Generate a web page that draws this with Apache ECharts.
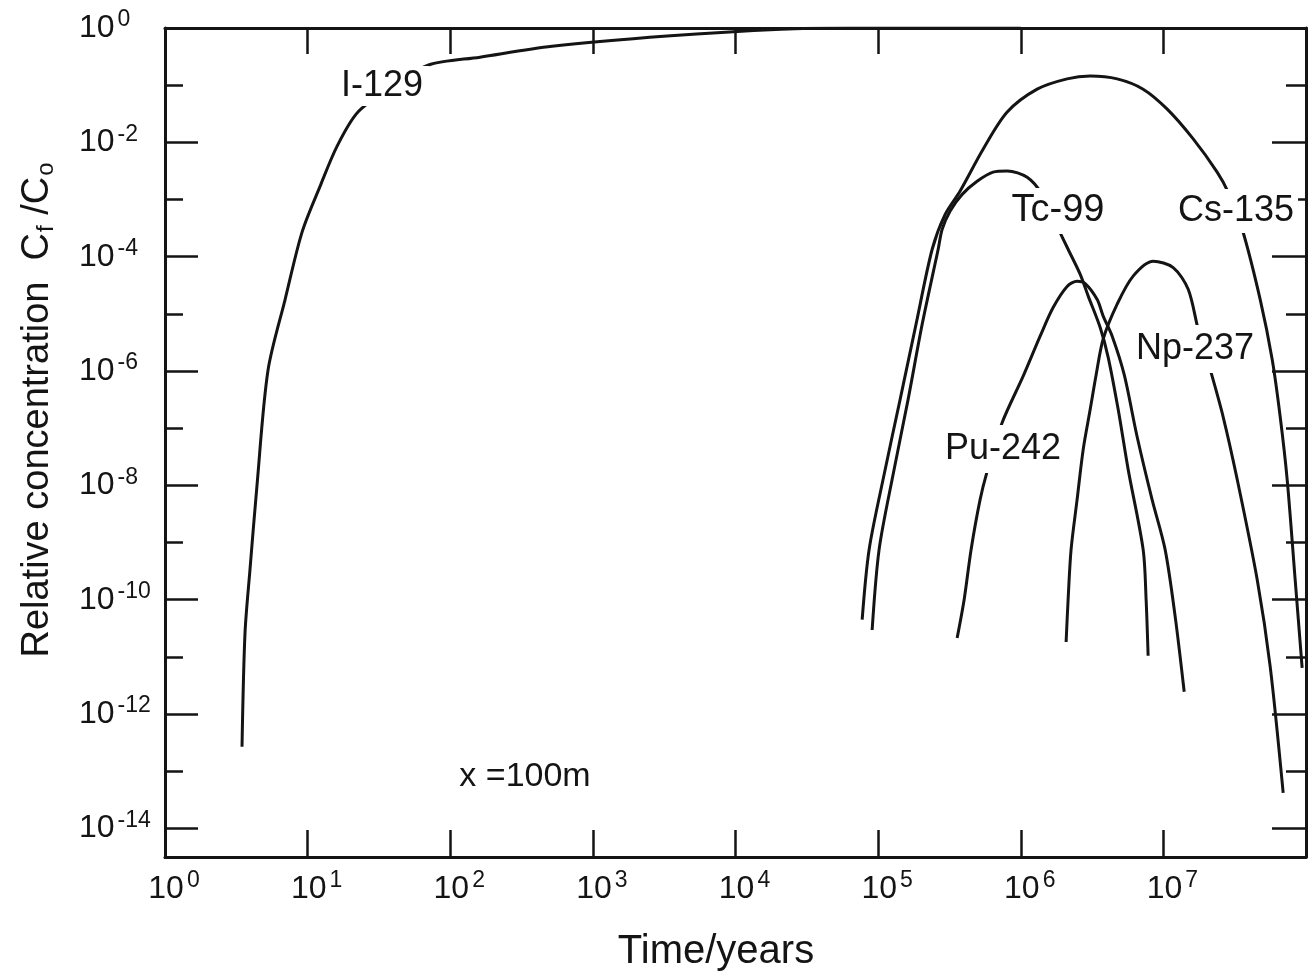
<!DOCTYPE html>
<html><head><meta charset="utf-8">
<script src="https://cdn.jsdelivr.net/npm/echarts@6/dist/echarts.min.js"></script>
<style>html,body{margin:0;padding:0;background:#fff}#c{width:1314px;height:978px}</style>
</head><body><div id="c"></div>
<script>
// Axis ticks / labels (exponents of ten)
const xLabelExps = [0, 1, 2, 3, 4, 5, 6, 7];
const xTickExps = [1, 2, 3, 4, 5, 6, 7];
const yLabelExps = [0, -2, -4, -6, -8, -10, -12, -14];
const yMinorExps = [-1, -3, -5, -7, -9, -11, -13];

// Series: log10(time / years) and log10(Cf/Co)
const i129LogT = [0.540, 0.561, 0.596, 0.645, 0.722, 0.842, 0.961, 1.087, 1.206, 1.353, 1.600, 1.844, 2.209, 2.714, 3.52, 4.32, 4.80, 6.00];
const i129LogC = [-12.57, -10.58, -9.47, -8.00, -5.99, -4.75, -3.57, -2.77, -2.07, -1.47, -1.02, -0.65, -0.51, -0.32, -0.14, -0.02, 0.00, 0.00];

const cs135LogT = [4.888, 4.937, 5.042, 5.154, 5.266, 5.379, 5.470, 5.575, 5.736, 5.905, 6.115, 6.325, 6.487, 6.676, 6.858, 7.027, 7.209, 7.377, 7.454, 7.553, 7.679, 7.763, 7.819, 7.868, 7.924, 7.973];
const cs135LogC = [-10.35, -9.12, -7.81, -6.50, -5.18, -3.87, -3.26, -2.85, -2.12, -1.47, -1.07, -0.89, -0.84, -0.89, -1.07, -1.42, -1.94, -2.52, -2.87, -3.52, -4.75, -5.80, -6.80, -7.90, -9.65, -11.19];

const tc99LogT = [4.958, 5.007, 5.105, 5.210, 5.309, 5.421, 5.449, 5.505, 5.589, 5.694, 5.806, 5.905, 6.045, 6.150, 6.255, 6.332, 6.417, 6.473, 6.557, 6.613, 6.683, 6.753, 6.858, 6.879, 6.893];
const tc99LogC = [-10.53, -9.12, -7.81, -6.50, -5.18, -3.87, -3.52, -3.20, -2.91, -2.68, -2.52, -2.50, -2.61, -2.91, -3.47, -3.87, -4.31, -4.69, -5.24, -5.76, -6.67, -7.72, -9.12, -10.00, -10.98];

const pu242LogT = [5.554, 5.603, 5.652, 5.715, 5.764, 5.870, 6.017, 6.136, 6.227, 6.325, 6.396, 6.452, 6.536, 6.578, 6.641, 6.725, 6.816, 6.921, 7.012, 7.083, 7.146];
const pu242LogC = [-10.67, -10.00, -9.12, -8.25, -7.76, -6.90, -6.09, -5.39, -4.89, -4.52, -4.43, -4.47, -4.75, -5.04, -5.39, -6.06, -7.15, -8.25, -9.12, -10.30, -11.61];

const np237LogT = [6.318, 6.332, 6.353, 6.395, 6.438, 6.487, 6.529, 6.578, 6.676, 6.788, 6.929, 7.069, 7.174, 7.244, 7.328, 7.419, 7.518, 7.658, 7.749, 7.840];
const np237LogC = [-10.74, -10.00, -9.12, -8.25, -7.37, -6.67, -6.06, -5.44, -4.83, -4.34, -4.08, -4.19, -4.57, -5.27, -5.97, -6.80, -7.90, -9.65, -11.17, -13.38];

const seriesNames = ['I-129', 'Cs-135', 'Tc-99', 'Pu-242', 'Np-237'];
const seriesT = [i129LogT, cs135LogT, tc99LogT, pu242LogT, np237LogT];
const seriesC = [i129LogC, cs135LogC, tc99LogC, pu242LogC, np237LogC];

const INK = '#141414';
const FONT = '"Liberation Sans", "DejaVu Sans", sans-serif';

const chart = echarts.init(document.getElementById('c'), null, {renderer: 'canvas'});

const powRich = {
  b: {fontSize: 32, fontFamily: FONT, color: INK, lineHeight: 40},
  s: {fontSize: 23, fontFamily: FONT, color: INK, padding: [0, 0, 16, 3], lineHeight: 40}
};
const powFmt = v => '{b|10}{s|' + String(Math.round(v)) + '}';

const lineStyleAxis = {color: INK, width: 3};
const tickStyle = {color: INK, width: 2.5};

const option = {
  backgroundColor: '#fff',
  animation: false,
  grid: {left: 165, right: 8, top: 28, bottom: 121, containLabel: false},
  xAxis: [
    {
      type: 'value', min: 0, max: 8, position: 'bottom',
      axisLine: {show: true, onZero: false, lineStyle: lineStyleAxis},
      axisTick: {show: true, inside: true, length: 27, lineStyle: tickStyle, customValues: xTickExps},
      axisLabel: {show: true, customValues: xLabelExps, formatter: powFmt, rich: powRich, margin: 12, padding: [0, 0, 0, 18]},
      splitLine: {show: false}
    },
    {
      type: 'value', min: 0, max: 8, position: 'top',
      axisLine: {show: true, onZero: false, lineStyle: lineStyleAxis},
      axisTick: {show: true, inside: true, length: 26, lineStyle: tickStyle, customValues: xTickExps},
      axisLabel: {show: false},
      splitLine: {show: false}
    }
  ],
  yAxis: [
    {
      type: 'value', min: -14.5, max: 0, position: 'left', offset: 0,
      axisLine: {show: true, onZero: false, lineStyle: lineStyleAxis},
      axisTick: {show: true, inside: true, length: 33, lineStyle: tickStyle, customValues: yLabelExps},
      axisLabel: {show: true, customValues: yLabelExps, formatter: powFmt, rich: powRich, margin: 86, align: 'left'},
      splitLine: {show: false}
    },
    {
      type: 'value', min: -14.5, max: 0, position: 'left', offset: 0,
      axisLine: {show: false, onZero: false},
      axisTick: {show: true, inside: true, length: 18, lineStyle: tickStyle, customValues: yMinorExps},
      axisLabel: {show: false},
      splitLine: {show: false}
    },
    {
      type: 'value', min: -14.5, max: 0, position: 'right', offset: 0,
      axisLine: {show: true, onZero: false, lineStyle: lineStyleAxis},
      axisTick: {show: true, inside: true, length: 34, lineStyle: tickStyle, customValues: yLabelExps},
      axisLabel: {show: false},
      splitLine: {show: false}
    },
    {
      type: 'value', min: -14.5, max: 0, position: 'right', offset: 0,
      axisLine: {show: false, onZero: false},
      axisTick: {show: true, inside: true, length: 20, lineStyle: tickStyle, customValues: yMinorExps},
      axisLabel: {show: false},
      splitLine: {show: false}
    }
  ],
  series: seriesNames.map((name, k) => ({
    name: name,
    type: 'line',
    xAxisIndex: 0, yAxisIndex: 0,
    data: seriesT[k].map((t, i) => [t, seriesC[k][i]]),
    showSymbol: false,
    smooth: 0.3,
    clip: true,
    lineStyle: {color: INK, width: 3},
    z: 3
  })),
  graphic: [
    // curve labels (white background breaks the curves like in the drawing)
    {type: 'text', z: 100, x: 382, y: 86, style: {text: 'I-129', font: '36px ' + FONT, fill: INK, align: 'center', verticalAlign: 'middle', backgroundColor: '#fff', padding: [2, 6]}},
    {type: 'text', z: 100, x: 1058, y: 211, style: {text: 'Tc-99', font: '38px ' + FONT, fill: INK, align: 'center', verticalAlign: 'middle', backgroundColor: '#fff', padding: [4, 6]}},
    {type: 'text', z: 100, x: 1236, y: 211, style: {text: 'Cs-135', font: '36px ' + FONT, fill: INK, align: 'center', verticalAlign: 'middle', backgroundColor: '#fff', padding: [4, 4]}},
    {type: 'text', z: 100, x: 1195, y: 349, style: {text: 'Np-237', font: '36px ' + FONT, fill: INK, align: 'center', verticalAlign: 'middle', backgroundColor: '#fff', padding: [6, 6]}},
    {type: 'text', z: 100, x: 1003, y: 449, style: {text: 'Pu-242', font: '36px ' + FONT, fill: INK, align: 'center', verticalAlign: 'middle', backgroundColor: '#fff', padding: [6, 6]}},
    {type: 'text', z: 100, x: 525, y: 777, style: {text: 'x =100m', font: '34px ' + FONT, fill: INK, align: 'center', verticalAlign: 'middle'}},
    // axis titles
    {type: 'text', z: 100, x: 716, y: 952, style: {text: 'Time/years', font: '40px ' + FONT, fill: INK, align: 'center', verticalAlign: 'middle'}},
    {type: 'text', z: 100, x: 38, y: 410, rotation: Math.PI / 2,
      style: {text: 'Relative concentration  C{sub|f} /C{sub|o}', font: '38px ' + FONT, fill: INK, align: 'center', verticalAlign: 'middle',
        rich: {sub: {fontSize: 24, fontFamily: FONT, fill: INK, padding: [16, 0, 0, 1]}}}}
  ]
};
chart.setOption(option);
</script>
</body></html>
